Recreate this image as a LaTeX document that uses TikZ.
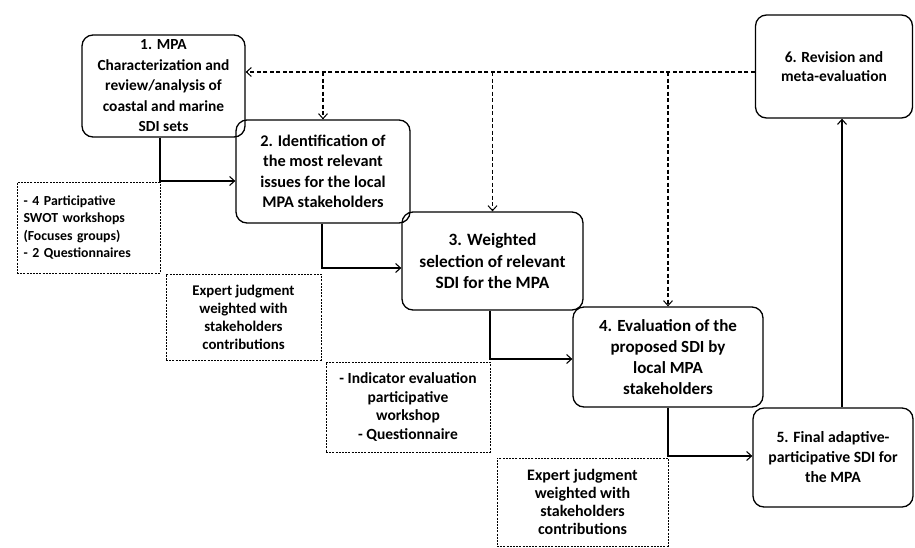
\documentclass[tikz,border=0pt]{standalone}
\usepackage{fontspec}
\setmainfont{Carlito}
\usetikzlibrary{arrows.meta}
\begin{document}
\begin{tikzpicture}[x=1pt,y=-1pt,
  stage/.style={draw,line width=1.3pt,rounded corners=11pt,align=center,inner sep=1pt},
  method/.style={draw,line width=0.9pt,dash pattern=on 2pt off 1.2pt,align=center,inner sep=1pt},
  fs/.style 2 args={font=\fontsize{#1}{#2}\selectfont\bfseries},
  flow/.style={line width=1.3pt,-{Straight Barb[length=5pt,width=9pt,line width=1.1pt]}},
  back/.style={line width=1.1pt,dash pattern=on 4pt off 2.5pt,-{Straight Barb[length=5pt,width=9pt,line width=1pt]}}]
\useasboundingbox (0,0) rectangle (915,547);
% stages
\node[stage,fs={15.4}{20.5},minimum width=163pt,minimum height=102pt] (s1) at (163.5,86)
  {1. MPA\\Characterization and\\review/analysis of\\coastal and marine\\SDI sets};
\node[stage,fs={16.3}{20.5},minimum width=174pt,minimum height=103pt] (s2) at (323,171.5)
  {2. Identification of\\the most relevant\\issues for the local\\MPA stakeholders};
\node[stage,fs={17.3}{21.5},minimum width=181pt,minimum height=98pt] (s3) at (492.5,261)
  {3. Weighted\\selection of relevant\\SDI for the MPA};
\node[stage,fs={17}{21},minimum width=190pt,minimum height=100pt] (s4) at (668,357)
  {4. Evaluation of the\\proposed SDI by\\local MPA\\stakeholders};
\node[stage,fs={15.7}{20},minimum width=160pt,minimum height=99pt] (s5) at (833,457.5)
  {5. Final adaptive-\\participative SDI for\\the MPA};
\node[stage,fs={15.5}{18.5},minimum width=157pt,minimum height=103pt] (s6) at (834,66.5)
  {6. Revision and\\meta-evaluation};
% methods
\node[method,fs={13.8}{17.5},minimum width=143pt,minimum height=91pt,align=left,
  text width=130pt] (m1) at (88.5,227.5)
  {- 4 Participative\\SWOT workshops\\(Focuses groups)\\- 2 Questionnaires};
\node[method,fs={14.8}{18},minimum width=155pt,minimum height=86pt] (m2) at (243.5,317)
  {Expert judgment\\weighted with\\stakeholders\\contributions};
\node[method,fs={15.5}{18.7},minimum width=164pt,minimum height=90pt] (m3) at (408,407)
  {- Indicator evaluation\\participative\\workshop\\- Questionnaire};
\node[method,fs={16}{18},minimum width=171pt,minimum height=88pt] (m4) at (582.5,502)
  {Expert judgment\\weighted with\\stakeholders\\contributions};
% flow connectors
\coordinate (e1) at (160,181);
\coordinate (e2) at (322,268);
\coordinate (e3) at (490,359);
\coordinate (e4) at (668,456);
\coordinate (e5) at (842,0);
\draw[flow] (s1.south -| e1) -- (e1) -- (e1 -| s2.west);
\draw[flow] (s2.south -| e2) -- (e2) -- (e2 -| s3.west);
\draw[flow] (s3.south -| e3) -- (e3) -- (e3 -| s4.west);
\draw[flow] (s4.south -| e4) -- (e4) -- (e4 -| s5.west);
\draw[flow] (s5.north -| e5) -- (s6.south -| e5);
% feedback
\coordinate (fb) at (0,72);
\draw[back] (s6.west |- fb) -- (fb -| s1.east);
\draw[back] (fb -| s2.north) -- (s2.north);
\draw[back] (fb -| s3.north) -- (s3.north);
\draw[back] (fb -| s4.north) -- (s4.north);
\end{tikzpicture}
\end{document}
